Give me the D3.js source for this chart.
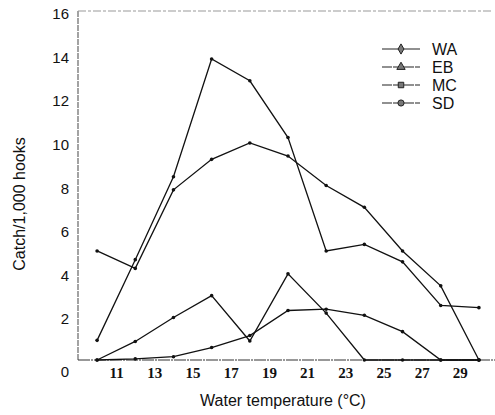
<!DOCTYPE html>
<html>
<head>
<meta charset="utf-8">
<script src="https://cdn.jsdelivr.net/npm/d3@7"></script>
<style>
  body { margin: 0; background: #fff; }
  svg { display: block; }
</style>
</head>
<body>
<div id="chart"></div>
<script>
// water temperature classes (°C)
var temps = [10, 12, 14, 16, 18, 20, 22, 24, 26, 28, 30];
var xTickLabels = [11, 13, 15, 17, 19, 21, 23, 25, 27, 29];
var yTickLabels = [0, 2, 4, 6, 8, 10, 12, 14, 16];
var species = ["WA", "EB", "MC", "SD"];
var symbols = [d3.symbolDiamond, d3.symbolTriangle, d3.symbolSquare, d3.symbolCircle];

// catch per 1,000 hooks
var wa = [0.9, 4.6, 8.4, 13.8, 12.8, 10.2, 5.0, 5.3, 4.5, 2.5, 2.4];
var eb = [5.0, 4.2, 7.8, 9.2, 9.95, 9.35, 8.0, 7.0, 5.0, 3.4, 0];
var mc = [0, 0.85, 1.95, 2.95, 0.87, 3.95, 2.15, 0, 0, 0, 0];
var sd = [0, 0.05, 0.15, 0.57, 1.12, 2.27, 2.33, 2.05, 1.3, 0, 0];

var width = 495, height = 415;

var svg = d3.select("#chart").append("svg")
    .attr("width", width)
    .attr("height", height);

var x = d3.scaleLinear().domain([9, 31]).range([78, 498]);
var y = d3.scaleLinear().domain([0, 16]).range([360, 11]);

// frame: left and top (faint)
svg.append("line")
    .attr("x1", x(9)).attr("x2", x(9))
    .attr("y1", y(16)).attr("y2", y(0))
    .attr("stroke", "#666").attr("stroke-width", 1.2)
    .attr("stroke-dasharray", "6,1");
svg.append("line")
    .attr("x1", x(9)).attr("x2", 492)
    .attr("y1", y(16)).attr("y2", y(16))
    .attr("stroke", "#999").attr("stroke-width", 1)
    .attr("stroke-dasharray", "8,2,3,2");

// x axis
var xAxis = svg.append("g")
    .attr("transform", "translate(0," + y(0) + ")")
    .call(d3.axisBottom(x).tickValues(xTickLabels).tickSize(0).tickPadding(7));
xAxis.select(".domain").remove();
xAxis.append("line")
    .attr("x1", x(9)).attr("x2", 495)
    .attr("stroke", "#333").attr("stroke-width", 1.2)
    .attr("stroke-dasharray", "12,1,2,1");
xAxis.selectAll("text")
    .attr("fill", "#111")
    .style("font-family", "'Liberation Serif', 'DejaVu Serif', serif")
    .style("font-size", "15px")
    .style("font-weight", "bold");

// y axis
var yAxis = svg.append("g")
    .attr("transform", "translate(" + x(9) + ",0)")
    .call(d3.axisLeft(y).tickValues(yTickLabels).tickSize(0).tickPadding(9));
yAxis.select(".domain").remove();
yAxis.selectAll("text")
    .attr("fill", "#111")
    .attr("dy", function(d) { return d === 0 ? "1.1em" : "0.5em"; })
    .style("font-family", "'Liberation Sans', Arial, sans-serif")
    .style("font-size", "15px");

// axis titles
svg.append("text")
    .attr("x", 283).attr("y", 406)
    .attr("text-anchor", "middle")
    .attr("fill", "#111")
    .style("font-family", "'Liberation Sans', Arial, sans-serif")
    .style("font-size", "16px")
    .text("Water temperature (°C)");

svg.append("text")
    .attr("transform", "translate(25,204) rotate(-90)")
    .attr("text-anchor", "middle")
    .attr("fill", "#111")
    .style("font-family", "'Liberation Sans', Arial, sans-serif")
    .style("font-size", "16px")
    .text("Catch/1,000 hooks");

// series
var series = [wa, eb, mc, sd];
var line = d3.line()
    .x(function(d, i) { return x(temps[i]); })
    .y(function(d) { return y(d); });

series.forEach(function(vals) {
    svg.append("path")
        .datum(vals)
        .attr("d", line)
        .attr("fill", "none")
        .attr("stroke", "#111")
        .attr("stroke-width", 1.3);
    svg.selectAll(null)
        .data(vals)
        .enter().append("circle")
        .attr("cx", function(d, i) { return x(temps[i]); })
        .attr("cy", function(d) { return y(d); })
        .attr("r", 1.8)
        .attr("fill", "#111");
});

// legend
var legend = svg.append("g").attr("transform", "translate(382,49)");
species.forEach(function(name, i) {
    var g = legend.append("g").attr("transform", "translate(0," + i * 18 + ")");
    g.append("line")
        .attr("x1", 0).attr("x2", 38)
        .attr("stroke", "#222").attr("stroke-width", 1.2)
        .attr("stroke-dasharray", i === 0 ? null : "10,1");
    g.append("path")
        .attr("transform", "translate(19,0)")
        .attr("d", d3.symbol().type(symbols[i]).size(30))
        .attr("fill", "#777")
        .attr("stroke", "#222")
        .attr("stroke-width", 1);
    g.append("text")
        .attr("x", 50).attr("y", 0)
        .attr("dy", "0.36em")
        .attr("fill", "#111")
        .style("font-family", "'Liberation Sans', Arial, sans-serif")
        .style("font-size", "16px")
        .text(name);
});
</script>
</body>
</html>
